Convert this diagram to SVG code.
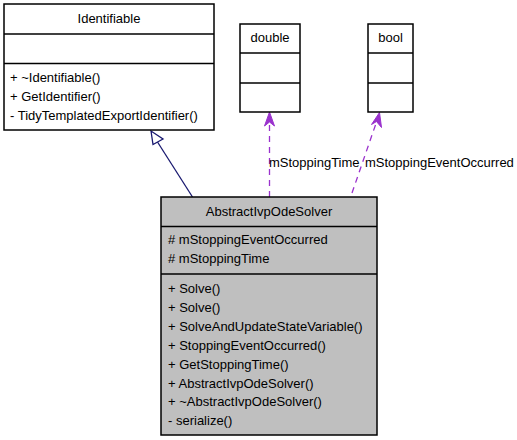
<svg xmlns="http://www.w3.org/2000/svg" width="517" height="440" viewBox="0 0 517 440">
<style>
text{font-family:"Liberation Sans",Arial,sans-serif;font-size:13px;fill:#000}
.box{fill:#fff;stroke:#404040;stroke-width:1.5}
.gray{fill:#bfbfbf;stroke:#000;stroke-width:1.5}
.sep{stroke:#000;stroke-width:1.5}
.c{text-anchor:middle}
.dep{stroke:#9a32cd;stroke-width:1.3;fill:none;stroke-dasharray:6,5}
.inh{stroke:#191970;stroke-width:1.3;fill:none}
</style>
<rect width="517" height="440" fill="#fff"/>
<g id="connectors">
<line class="inh" x1="157.5" y1="142" x2="192.5" y2="197"/>
<polygon points="151,131 153,144.5 163,139" fill="#fff" stroke="#191970" stroke-width="1.3"/>
<line class="dep" x1="269.5" y1="197" x2="269.5" y2="122"/>
<polygon points="269.5,112 264.5,126 269.5,122 274.5,126" fill="#9a32cd" stroke="#9a32cd"/>
<line class="dep" x1="352" y1="193" x2="376.5" y2="122"/>
<polygon points="379.5,112.5 371.5,124.5 376.5,121.5 381.5,127.5" fill="#9a32cd" stroke="#9a32cd"/>
<text x="269" y="167">mStoppingTime</text>
<text x="365" y="167">mStoppingEventOccurred</text>
</g>
<g id="Identifiable">
<rect class="box" x="4" y="4" width="210" height="126" style="stroke:#000"/>
<line class="sep" x1="4" y1="34" x2="214" y2="34"/>
<line class="sep" x1="4" y1="63.5" x2="214" y2="63.5"/>
<text class="c" x="109" y="23">Identifiable</text>
<text x="10" y="82">+ ~Identifiable()</text>
<text x="10" y="101">+ GetIdentifier()</text>
<text x="10" y="120">- TidyTemplatedExportIdentifier()</text>
</g>
<g id="double">
<rect class="box" x="240" y="24" width="60" height="88" style="stroke:#000"/>
<line class="sep" x1="240" y1="53" x2="300" y2="53"/>
<line class="sep" x1="240" y1="83" x2="300" y2="83"/>
<text class="c" x="270" y="42">double</text>
</g>
<g id="bool">
<rect class="box" x="368" y="24" width="45" height="88" style="stroke:#000"/>
<line class="sep" x1="368" y1="53" x2="413" y2="53"/>
<line class="sep" x1="368" y1="83" x2="413" y2="83"/>
<text class="c" x="390.5" y="42">bool</text>
</g>
<g id="AbstractIvpOdeSolver">
<rect class="gray" x="161" y="197" width="216" height="238"/>
<line class="sep" x1="161" y1="226.5" x2="377" y2="226.5"/>
<line class="sep" x1="161" y1="274" x2="377" y2="274"/>
<text class="c" x="269" y="216">AbstractIvpOdeSolver</text>
<text x="168" y="244">#  mStoppingEventOccurred</text>
<text x="168" y="263">#  mStoppingTime</text>
<text x="168" y="293">+ Solve()</text>
<text x="168" y="312">+ Solve()</text>
<text x="168" y="331">+ SolveAndUpdateStateVariable()</text>
<text x="168" y="350">+ StoppingEventOccurred()</text>
<text x="168" y="368.5">+ GetStoppingTime()</text>
<text x="168" y="387.5">+ AbstractIvpOdeSolver()</text>
<text x="168" y="406">+ ~AbstractIvpOdeSolver()</text>
<text x="168" y="425">- serialize()</text>
</g>
</svg>
